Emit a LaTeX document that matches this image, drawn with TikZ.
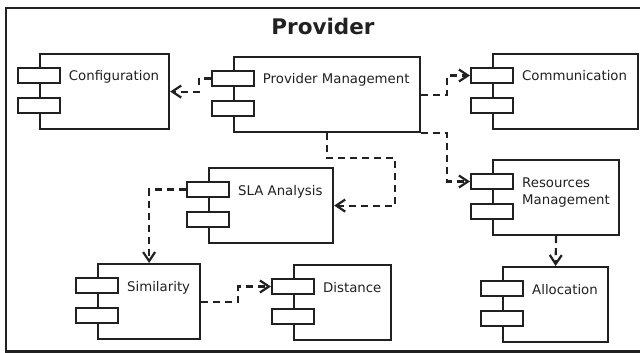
\documentclass[tikz,border=0pt]{standalone}
\usepackage{fontspec}
\setmainfont{DejaVu Sans}
\usetikzlibrary{arrows.meta,calc}
\definecolor{ink}{gray}{0.13}

% #1 name, #2 left x, #3 top y, #4 width, #5 label, #6 baseline offset of the label's last line
\newcommand\umlcomp[6]{%
  \node[compbody, minimum width=#4pt, anchor=north west] (#1) at (#2,#3) {};
  \node[port] (#1-p1) at (#2,#3+22.5) {};
  \node[port] (#1-p2) at (#2,#3+52.5) {};
  \node[complabel] (#1-l) at (#2+30,#3+#6) {#5};
}

\begin{document}
\begin{tikzpicture}[x=1pt,y=-1pt,
  every node/.style={font=\fontsize{13.3}{17}\selectfont, text=ink},
  compbody/.style={draw=ink, line width=2.2pt, minimum height=75pt, fill=white, inner sep=0pt},
  port/.style={draw=ink, line width=2.2pt, minimum width=42pt, minimum height=15pt, fill=white, inner sep=0pt},
  complabel/.style={anchor=base west, inner sep=0pt, align=left},
  dep/.style={draw=ink, line width=2.2pt, dash pattern=on 7pt off 5pt,
    -{Straight Barb[length=9pt,width=12pt,line width=2.2pt]}}]
\useasboundingbox (0,0) rectangle (640,353);

% package frame and title
\draw[ink, line width=2.4pt] (700,8) -- (6,8) -- (6,351.5) -- (700,351.5);
\node[anchor=base, font=\fontsize{21.5}{25}\selectfont\bfseries, inner sep=0pt] (title) at (323,35) {Provider};

% components
\umlcomp{cfg}{38.7}{53}{129.3}{Configuration}{28}
\umlcomp{pm}{232.7}{56}{186.3}{Provider Management}{28}
\umlcomp{comm}{492}{53}{145}{Communication}{28}
\umlcomp{rm}{492}{159}{126}{Resources\\Management}{45.5}
\umlcomp{sla}{208}{167}{124}{SLA Analysis}{28}
\umlcomp{sim}{97}{263}{102}{Similarity}{28}
\umlcomp{dist}{293}{264}{97}{Distance}{28}
\umlcomp{alloc}{502}{266}{105}{Allocation}{28}

% dependencies
\draw[dep] (pm-p1.west) -- ++(-12,0) |- (cfg.east);
\draw[dep] (pm.east) -- ++(26,0) |- (comm-p1.west);
\draw[dep] (pm.south east) -- ++(26,0) |- (rm-p1.west);
\draw[dep] (pm.south) -- ++(0,25) -| ([xshift=61pt]sla.east) -- (sla.east);
\draw[dep] (sla-p1.west) -| (sim.north);
\draw[dep] (sim.east) -- ++(37,0) |- (dist-p1.west);
\draw[dep] (rm.south) -- (alloc.north);
\end{tikzpicture}
\end{document}
